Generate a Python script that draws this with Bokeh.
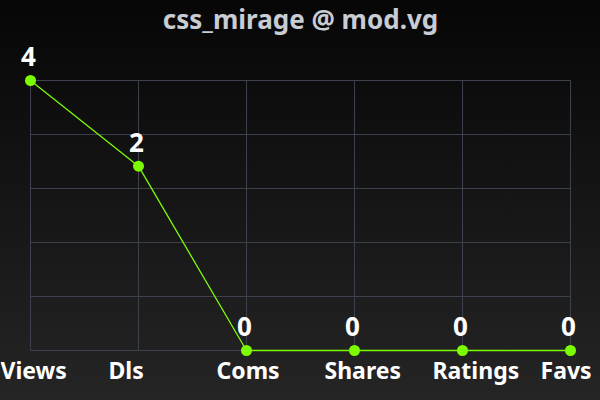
import math
from bokeh.plotting import figure
from bokeh.models import Range1d, ColumnDataSource, Label
from bokeh.core.properties import value
from bokeh.embed import file_html
from bokeh.resources import INLINE

# ---- data ----
categories = ["Views", "Dls", "Coms", "Shares", "Ratings", "Favs"]
counts = [4, 2, 0, 0, 0, 0]
title_text = "css_mirage @ mod.vg"
n_grid = 5  # horizontal grid intervals

# ---- layout (pixels of the 600x400 page) ----
W, H = 600, 400
left_px, right_px, top_px, bottom_px = 30, 570, 80, 350
step = (right_px - left_px) / (len(categories) - 1)
plot_h = bottom_px - top_px

# y: log(1+v) scale normalised to the max
ymax = math.log1p(max(counts))
ys = [math.log1p(c) / ymax for c in counts]
xs = list(range(len(categories)))

x_range = Range1d(-left_px / step, (len(categories) - 1) + (W - right_px) / step)
y_range = Range1d(-(H - bottom_px) / plot_h, 1 + top_px / plot_h)

p = figure(width=W, height=H, x_range=x_range, y_range=y_range,
           output_backend="svg", toolbar_location=None,
           min_border=0, min_border_left=0, min_border_right=0,
           min_border_top=0, min_border_bottom=0)
p.axis.visible = False
p.grid.visible = False
p.outline_line_color = None
p.background_fill_alpha = 0
p.border_fill_alpha = 0
p.styles = {"position": "fixed", "top": "0px", "left": "0px",
            "background": "linear-gradient(to bottom, #060606, #252525)"}

grid_color = "#3b424c"
# horizontal grid
gy = [i / n_grid for i in range(n_grid + 1)]
p.segment(x0=[xs[0]] * len(gy), x1=[xs[-1]] * len(gy), y0=gy, y1=gy,
          line_color=grid_color, line_width=1)
# vertical grid
p.segment(x0=xs, x1=xs, y0=[0] * len(xs), y1=[1] * len(xs),
          line_color=grid_color, line_width=1)

src = ColumnDataSource(dict(x=xs, y=ys, base=[0] * len(xs),
                            lab=[str(c) for c in counts], cat=categories))
green = "#7cfc00"
p.line("x", "y", source=src, line_color=green, line_width=1.3)
p.scatter("x", "y", source=src, size=11, fill_color=green, line_color=None)

p.text("x", "y", text="lab", source=src, text_color="white",
       text_font=value("Noto Sans"), text_font_style="bold", text_font_size="26px",
       text_align="center", text_baseline="alphabetic", x_offset=-2, y_offset=-24)

p.text("x", "base", text="cat", source=src, text_color="white",
       text_font=value("Noto Sans"), text_font_style="bold", text_font_size="23px",
       text_align="left", text_baseline="alphabetic", x_offset=-30, y_offset=19)

p.add_layout(Label(x=W / 2, y=H - 18, x_units="screen", y_units="screen",
                   text=title_text, text_color="#c8ccd4", text_font="Noto Sans",
                   text_font_style="bold", text_font_size="26px",
                   text_align="center", text_baseline="alphabetic"))

open("out.html", "w").write(file_html(p, INLINE))
